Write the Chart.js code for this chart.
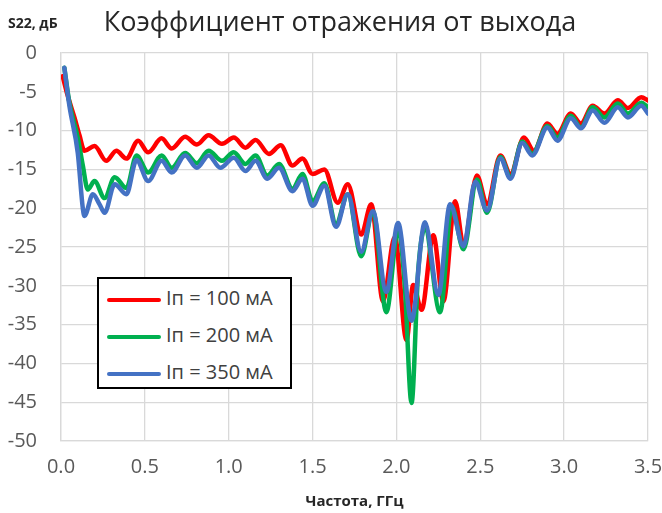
<!DOCTYPE html>
<html>
<head>
<meta charset="utf-8">
<title>S22</title>
<script src="https://cdn.jsdelivr.net/npm/chart.js@4.4.1/dist/chart.umd.min.js"></script>
<style>
    body { margin: 0; background: #fff; }
    #wrap { position: relative; width: 662px; height: 513px; }
    #legend {
        position: absolute; left: 97px; top: 277px; width: 191px; height: 108px;
        border: 2px solid #000; background: #fff;
        font-family: "Open Sans", sans-serif; font-size: 20px; color: #404040;
    }
    #legend .item { position: absolute; left: 8px; height: 26px; line-height: 26px; white-space: nowrap; }
    #legend .swatch { display: inline-block; width: 54px; height: 4px; border-radius: 2px; vertical-align: middle; margin-right: 5px; }
</style>
</head>
<body>
<div id="wrap">
    <canvas id="myChart" width="662" height="513"></canvas>
    <div id="legend"></div>
</div>
<script>
// values (GHz / dB)
const freqRed = [0.01, 0.04, 0.08, 0.11, 0.14, 0.20, 0.27, 0.33, 0.39, 0.46, 0.52, 0.60, 0.66, 0.74, 0.81,
    0.88, 0.96, 1.03, 1.10, 1.16, 1.24, 1.31, 1.38, 1.44, 1.50, 1.57, 1.65, 1.71, 1.79, 1.85, 1.92, 1.99,
    2.06, 2.10, 2.15, 2.22, 2.28, 2.35, 2.40, 2.48, 2.54, 2.62, 2.68, 2.76, 2.82, 2.90, 2.96, 3.04, 3.10,
    3.17, 3.24, 3.32, 3.38, 3.46, 3.50];
const s22Red = [-3.0, -5.5, -8.3, -10.6, -12.6, -12.0, -13.9, -12.6, -13.6, -11.3, -12.8, -11.0, -12.3, -10.8, -11.8,
    -10.6, -11.7, -10.9, -12.2, -11.2, -13.0, -11.9, -14.5, -13.6, -15.6, -15.0, -19.3, -16.9, -23.4, -19.5, -32.0, -23.7,
    -37.0, -29.9, -33.1, -23.5, -32.0, -19.1, -24.7, -15.8, -19.5, -13.2, -15.6, -10.9, -12.6, -9.1, -10.4, -7.8, -9.1,
    -6.8, -7.8, -6.1, -7.1, -5.7, -6.1];

const freqGreen = [0.02, 0.05, 0.10, 0.13, 0.16, 0.20, 0.26, 0.32, 0.39, 0.45, 0.52, 0.60, 0.66, 0.74, 0.81,
    0.88, 0.96, 1.03, 1.10, 1.16, 1.23, 1.30, 1.38, 1.44, 1.50, 1.57, 1.64, 1.71, 1.79, 1.86, 1.94, 2.01,
    2.05, 2.09, 2.13, 2.17, 2.26, 2.33, 2.40, 2.48, 2.54, 2.62, 2.68, 2.75, 2.81, 2.90, 2.96, 3.04, 3.10,
    3.17, 3.24, 3.32, 3.38, 3.46, 3.50];
const s22Green = [-1.9, -6.4, -10.9, -14.5, -17.6, -16.5, -18.7, -16.0, -17.4, -13.2, -15.4, -13.2, -14.8, -12.9, -14.2,
    -12.6, -13.9, -12.8, -14.3, -13.2, -15.8, -14.3, -17.5, -15.6, -19.1, -16.8, -22.0, -18.2, -26.2, -20.4, -33.4, -22.7,
    -30.0, -45.1, -28.0, -22.6, -33.4, -19.8, -25.3, -16.3, -20.6, -13.4, -16.0, -11.4, -13.0, -9.4, -10.9, -8.1, -9.6,
    -7.0, -8.3, -6.5, -7.8, -6.4, -7.0];

const freqBlue = [0.02, 0.05, 0.10, 0.13, 0.14, 0.19, 0.23, 0.26, 0.32, 0.39, 0.45, 0.52, 0.60, 0.66, 0.74, 0.81,
    0.88, 0.95, 1.03, 1.10, 1.16, 1.23, 1.30, 1.38, 1.44, 1.50, 1.57, 1.64, 1.71, 1.79, 1.86, 1.94, 2.01,
    2.09, 2.17, 2.25, 2.32, 2.40, 2.47, 2.54, 2.62, 2.68, 2.75, 2.81, 2.90, 2.96, 3.04, 3.10,
    3.17, 3.24, 3.32, 3.38, 3.46, 3.50];
const s22Blue = [-1.9, -6.8, -12.9, -20.0, -21.0, -18.2, -19.5, -20.6, -16.9, -18.2, -13.8, -16.5, -13.9, -15.4, -13.2, -14.8,
    -13.2, -14.8, -13.5, -15.2, -13.9, -16.2, -14.8, -17.8, -16.2, -19.7, -17.1, -22.4, -18.2, -25.6, -20.4, -30.8, -21.9,
    -34.5, -21.8, -31.2, -19.5, -24.9, -16.6, -20.3, -13.6, -16.2, -11.6, -13.2, -9.6, -11.3, -8.4, -9.7,
    -7.4, -9.0, -7.0, -8.3, -6.8, -7.8];

const seriesLabels = ['Iп = 100 мА', 'Iп = 200 мА', 'Iп = 350 мА'];
const seriesColors = ['#ff0000', '#00b050', '#4472c4'];
const chartTitle = 'Коэффициент отражения от выхода';
const yAxisLabel = 'S22, дБ';
const xAxisLabel = 'Частота, ГГц';

function toPoints(xs, ys) {
    return xs.map((x, i) => ({ x: x, y: ys[i] }));
}

const chartData = {
    datasets: [
        { label: seriesLabels[0], data: toPoints(freqRed, s22Red), borderColor: seriesColors[0], order: 3 },
        { label: seriesLabels[1], data: toPoints(freqGreen, s22Green), borderColor: seriesColors[1], order: 2 },
        { label: seriesLabels[2], data: toPoints(freqBlue, s22Blue), borderColor: seriesColors[2], order: 1 }
    ].map(ds => Object.assign(ds, {
        borderWidth: 4.5,
        pointRadius: 0,
        fill: false,
        cubicInterpolationMode: 'monotone',
        borderCapStyle: 'round',
        borderJoinStyle: 'round'
    }))
};

// title line: the y unit label on the left, chart title a bit right of centre
const header = {
    id: 'header',
    afterDraw(chart) {
        const ctx = chart.ctx;
        ctx.save();
        ctx.textBaseline = 'middle';
        ctx.fillStyle = '#262626';
        ctx.font = 'bold 14px "Open Sans", sans-serif';
        ctx.textAlign = 'left';
        ctx.fillText(yAxisLabel, 8, 24);
        ctx.font = '27px "Open Sans", sans-serif';
        ctx.textAlign = 'center';
        ctx.fillText(chartTitle, 340, 23);
        ctx.restore();
    }
};

const config = {
    type: 'line',
    data: chartData,
    options: {
        responsive: false,
        animation: false,
        layout: { padding: { left: 0, right: 0, top: 53, bottom: 2 } },
        plugins: {
            legend: { display: false },
            tooltip: { enabled: false },
            title: { display: false }
        },
        scales: {
            x: {
                type: 'linear',
                min: 0,
                max: 3.5,
                afterFit: scale => { scale.paddingRight = 14; },
                ticks: {
                    stepSize: 0.5,
                    color: '#595959',
                    font: { family: '"Open Sans", sans-serif', size: 20 },
                    padding: 14,
                    callback: v => v.toFixed(1)
                },
                grid: { color: '#d9d9d9', lineWidth: 1.3, drawTicks: false },
                border: { color: '#d9d9d9', width: 1.3 },
                title: {
                    display: true,
                    text: xAxisLabel,
                    color: '#262626',
                    font: { family: '"Open Sans", sans-serif', size: 15, weight: 'bold' },
                    padding: { top: 0, bottom: 0 }
                }
            },
            y: {
                min: -50,
                max: 0,
                afterFit: scale => { scale.width = 61; },
                ticks: {
                    stepSize: 5,
                    color: '#595959',
                    font: { family: '"Open Sans", sans-serif', size: 20 },
                    padding: 24
                },
                grid: { color: '#d9d9d9', lineWidth: 1.3, drawTicks: false },
                border: { color: '#d9d9d9', width: 1.3 }
            }
        }
    },
    plugins: [header]
};

const ctx = document.getElementById('myChart').getContext('2d');
const chart = new Chart(ctx, config);

// legend box inside the plot, built from the datasets
const legendEl = document.getElementById('legend');
chart.data.datasets.forEach((ds, i) => {
    const item = document.createElement('div');
    item.className = 'item';
    item.style.top = (6 + i * 37) + 'px';
    item.innerHTML = '<span class="swatch" style="background:' + ds.borderColor + '"></span>' + ds.label;
    legendEl.appendChild(item);
});
</script>
</body>
</html>
